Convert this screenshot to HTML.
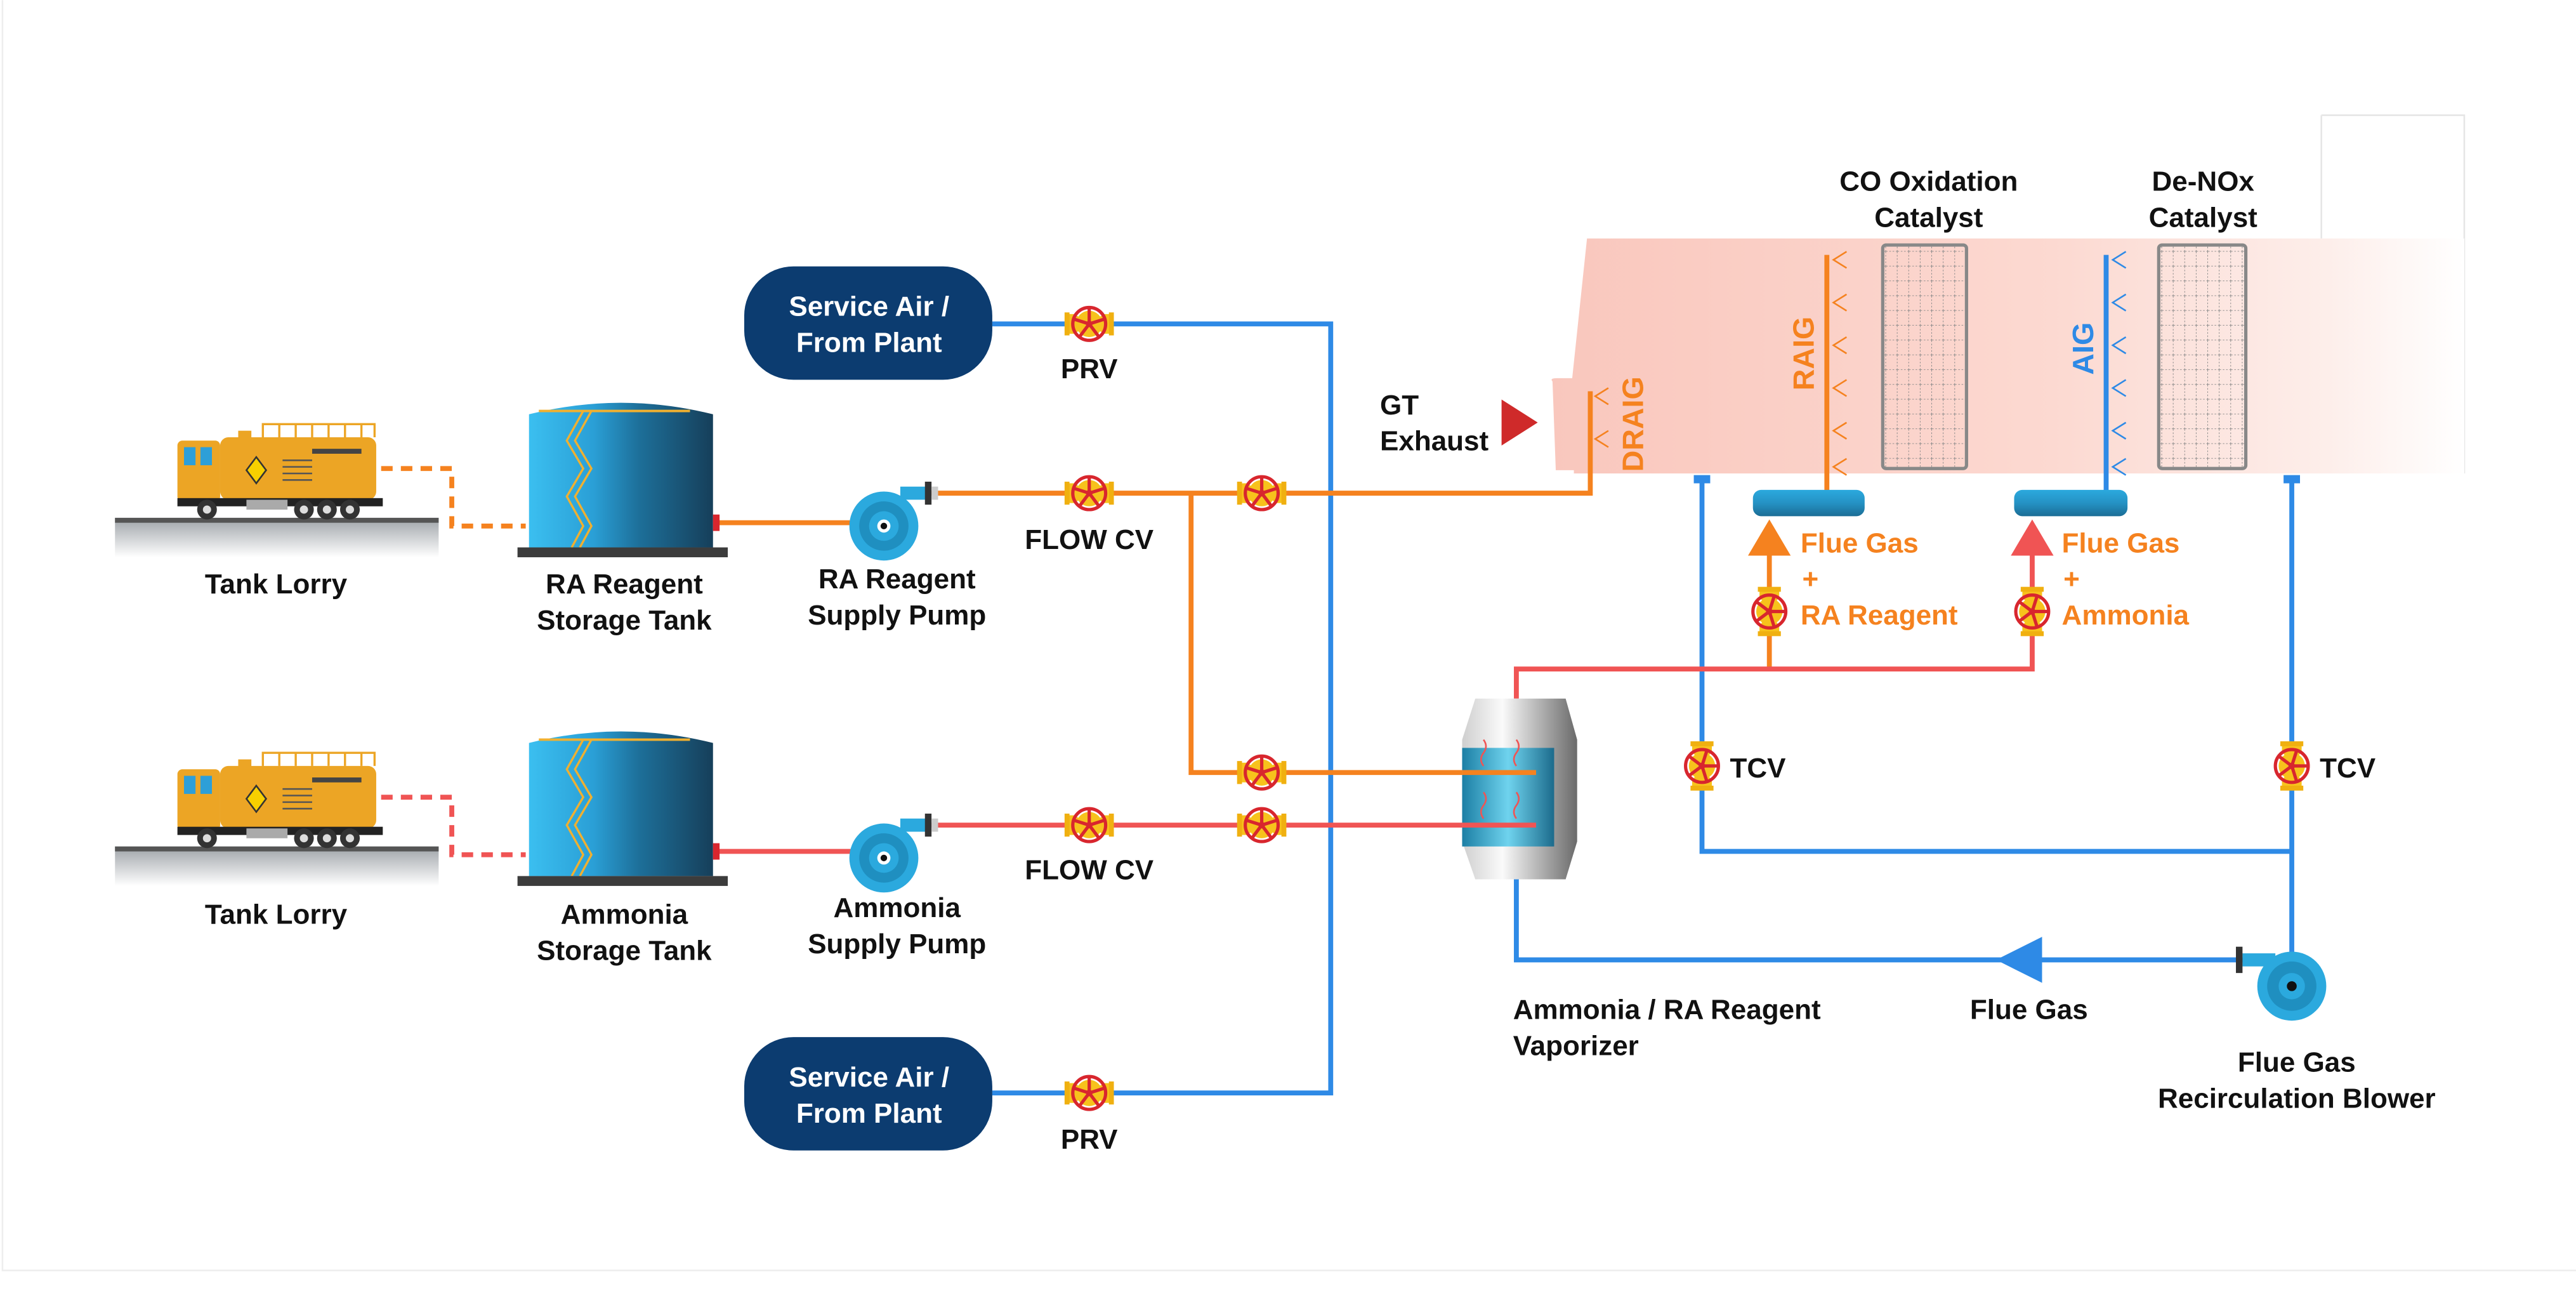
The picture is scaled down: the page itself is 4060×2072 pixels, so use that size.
<!DOCTYPE html>
<html><head><meta charset="utf-8"><style>
html,body{margin:0;padding:0;background:#fff}
svg{display:block}
text{font-family:"Liberation Sans",sans-serif;font-weight:bold;font-size:17px;fill:#111}
</style></head><body>
<svg width="4060" height="2072" viewBox="0 0 1568 800" xmlns="http://www.w3.org/2000/svg">
<defs>
<linearGradient id="duct" x1="0" x2="1" y1="0" y2="0">
<stop offset="0" stop-color="#f9c7bd"/><stop offset="0.55" stop-color="#fcd9d1"/><stop offset="0.85" stop-color="#fdeeea"/><stop offset="1" stop-color="#fff"/></linearGradient>
<linearGradient id="tank" x1="0" x2="1"><stop offset="0" stop-color="#3bbff0"/><stop offset="0.35" stop-color="#2a9fd6"/><stop offset="0.6" stop-color="#1d6f99"/><stop offset="1" stop-color="#163f5a"/></linearGradient>
<linearGradient id="ground" x1="0" x2="0" y1="0" y2="1"><stop offset="0" stop-color="#9ea3a8"/><stop offset="1" stop-color="#fff"/></linearGradient>
<linearGradient id="vap" x1="0" x2="1"><stop offset="0" stop-color="#cfcfcf"/><stop offset="0.35" stop-color="#fafafa"/><stop offset="1" stop-color="#6a6a6a"/></linearGradient>
<linearGradient id="vapin" x1="0" x2="1"><stop offset="0" stop-color="#1c7fa5"/><stop offset="0.5" stop-color="#6fd3ee"/><stop offset="1" stop-color="#1c6b8c"/></linearGradient>
<linearGradient id="hdr" x1="0" x2="0" y1="0" y2="1"><stop offset="0" stop-color="#2ba9de"/><stop offset="0.5" stop-color="#2592c4"/><stop offset="1" stop-color="#1b6d95"/></linearGradient>
<pattern id="grid" width="7" height="9" patternUnits="userSpaceOnUse"><path d="M7 0V9M0 9H7" stroke="#888" stroke-width="0.7" stroke-dasharray="1 1" fill="none"/></pattern>
<g id="valve">
<path d="M-14 -6 L-9 -6 L0 0 L9 -6 L14 -6 L14 6 L9 6 L0 0 L-9 6 L-14 6Z" fill="#f7c21c"/>
<rect x="-15" y="-7" width="3" height="14" fill="#f0b010"/><rect x="12" y="-7" width="3" height="14" fill="#f0b010"/>
<circle r="8" fill="#f7c21c"/>
<circle r="10" fill="none" stroke="#d8262e" stroke-width="2"/>
<path d="M0 0V-10M0 0L9.5 -3M0 0L6 8M0 0L-6 8M0 0L-9.5 -3" stroke="#d8262e" stroke-width="2"/>
<circle r="2" fill="#d8262e"/>
</g>
<g id="vvalve"><use href="#valve" transform="rotate(90)"/></g>
<g id="truck">
<rect x="0" y="315" width="197" height="24" fill="url(#ground)"/>
<rect x="0" y="315" width="197" height="3" fill="#555"/>
<rect x="38" y="268" width="26" height="37" rx="3" fill="#eca525"/>
<rect x="42" y="272" width="7" height="11" fill="#2d9fd8"/><rect x="52" y="272" width="7" height="11" fill="#2d9fd8"/>
<rect x="64" y="266" width="95" height="38" rx="5" fill="#eca525"/>
<rect x="75" y="262" width="8" height="6" fill="#eca525"/>
<path d="M90 266 v-8 h68 v8 M100 258 v8 M110 258 v8 M120 258 v8 M130 258 v8 M140 258 v8 M150 258 v8" stroke="#eca525" fill="none" stroke-width="1.3"/>
<rect x="120" y="273" width="30" height="3" fill="#444"/>
<path d="M102 280 h18 M102 284 h18 M102 288 h18 M102 292 h18" stroke="#555" stroke-width="1"/>
<path d="M86 278 l6 8 -6 8 -6 -8z" fill="#f7d000" stroke="#333"/>
<rect x="38" y="303" width="125" height="5" fill="#222"/>
<rect x="80" y="304" width="25" height="6" fill="#aaa"/>
<circle cx="56" cy="310" r="6" fill="#333"/><circle cx="56" cy="310" r="2.5" fill="#ddd"/>
<circle cx="115" cy="310" r="6" fill="#333"/><circle cx="115" cy="310" r="2.5" fill="#ddd"/>
<circle cx="129" cy="310" r="6" fill="#333"/><circle cx="129" cy="310" r="2.5" fill="#ddd"/>
<circle cx="143" cy="310" r="6" fill="#333"/><circle cx="143" cy="310" r="2.5" fill="#ddd"/>
</g>
<g id="tankg">
<path d="M322 252 Q378 238 434 252 V333 H322Z" fill="url(#tank)"/>
<path d="M328 250 H420" stroke="#f0b030" stroke-width="1.5"/>
<path d="M355 250 L345 268 L355 285 L345 302 L355 320 L348 333 M360 250 L350 268 L360 285 L350 302 L360 320 L353 333" stroke="#f0b030" stroke-width="1.3" fill="none"/>
<rect x="315" y="333" width="128" height="6" fill="#3c3c3c"/>
</g>
<g id="pump">
<path d="M10 -20 h18" stroke="#2ba9de" stroke-width="8"/>
<rect x="25" y="-27" width="4" height="14" fill="#333"/><rect x="29" y="-24" width="4" height="8" fill="#ccc"/>
<circle r="21" fill="#2ba9de"/><circle r="15" fill="#1f8fc0"/><circle r="9" fill="#2ba9de"/><circle r="4" fill="#fff"/><circle r="2" fill="#111"/>
</g>
</defs>
<rect width="1568" height="800" fill="#fff"/>
<path d="M1.5 0 V773 H1568" stroke="#eee" fill="none"/>

<path d="M1413 70 V145 M1413 70 H1500 V288" stroke="#e6e6e6" fill="none"/>
<path d="M945 232 Q943 230 948 230 H957 L966 145 H1500 V288 H958 V286 H947 Z" fill="url(#duct)"/>
<rect x="1146" y="149" width="51" height="136" fill="url(#grid)" stroke="#888" stroke-width="2" rx="2"/>
<rect x="1314" y="149" width="53" height="136" fill="url(#grid)" stroke="#888" stroke-width="2" rx="2"/>
<text x="1174" y="116" text-anchor="middle">CO Oxidation</text>
<text x="1174" y="138" text-anchor="middle">Catalyst</text>
<text x="1341" y="116" text-anchor="middle">De-NOx</text>
<text x="1341" y="138" text-anchor="middle">Catalyst</text>

<path d="M1112 155 V300" stroke="#f5821f" stroke-width="3"/>
<g stroke="#f5821f" stroke-width="1" fill="none">
<path d="M1124 153 l-8 5 8 5 M1124 179 l-8 5 8 5 M1124 205 l-8 5 8 5 M1124 231 l-8 5 8 5 M1124 257 l-8 5 8 5 M1124 279 l-8 5 8 5"/>
<path d="M979 236 l-8 5 8 5 M979 262 l-8 5 8 5"/></g>
<path d="M1282 155 V300" stroke="#2e8ae6" stroke-width="3"/>
<g stroke="#2e8ae6" stroke-width="1" fill="none"><path d="M1294 153 l-8 5 8 5 M1294 179 l-8 5 8 5 M1294 205 l-8 5 8 5 M1294 231 l-8 5 8 5 M1294 257 l-8 5 8 5 M1294 279 l-8 5 8 5"/></g>
<text transform="translate(1104 215) rotate(-90)" text-anchor="middle" style="fill:#f5821f;font-size:18px">RAIG</text>
<text transform="translate(1274 212) rotate(-90)" text-anchor="middle" style="fill:#2e8ae6;font-size:18px">AIG</text>
<text transform="translate(1000 258) rotate(-90)" text-anchor="middle" style="fill:#f5821f;font-size:18px">DRAIG</text>
<rect x="1067" y="298" width="68" height="16" rx="5" fill="url(#hdr)"/>
<rect x="1226" y="298" width="69" height="16" rx="5" fill="url(#hdr)"/>
<text x="840" y="252">GT</text><text x="840" y="274">Exhaust</text>
<path d="M914 243 L936 257 L914 271Z" fill="#cf2a2a"/>

<rect x="453" y="162" width="151" height="69" rx="30" fill="#0c3c70"/>
<text x="529" y="192" text-anchor="middle" style="fill:#fff">Service Air /</text>
<text x="529" y="214" text-anchor="middle" style="fill:#fff">From Plant</text>
<rect x="453" y="631" width="151" height="69" rx="30" fill="#0c3c70"/>
<text x="529" y="661" text-anchor="middle" style="fill:#fff">Service Air /</text>
<text x="529" y="683" text-anchor="middle" style="fill:#fff">From Plant</text>
<g stroke="#2e8ae6" stroke-width="3" fill="none">
<path d="M604 197 H810 V665 H604"/>
<path d="M1036 292 V518 H1395 M1395 292 V584 H923 V535"/>
</g>
<path d="M1215 584 L1243 570 V598Z" fill="#2e8ae6"/>
<rect x="1031" y="289" width="10" height="5" fill="#2e8ae6"/><rect x="1390" y="289" width="10" height="5" fill="#2e8ae6"/>
<use href="#valve" x="663" y="197"/><use href="#valve" x="663" y="665"/>
<text x="663" y="230" text-anchor="middle">PRV</text>
<text x="663" y="699" text-anchor="middle">PRV</text>

<g fill="none" stroke-width="3">
<path d="M437 318 H518 M565 300 H968 V238 M725 300 V470 H890" stroke="#f5821f"/>
<path d="M232 285 H275 V320 H320" stroke="#f5821f" stroke-dasharray="7 5"/>
<path d="M1077 407 V338" stroke="#f5821f"/>
<path d="M437 518 H518 M565 502 H890" stroke="#f05454"/>
<path d="M232 485 H275 V520 H320" stroke="#f05454" stroke-dasharray="7 5"/>
<path d="M923 425 V407 H1237 V338" stroke="#f05454"/>
</g>
<path d="M1064 338 L1077 316 L1090 338Z" fill="#f5821f"/>
<path d="M1224 338 L1237 316 L1250 338Z" fill="#f05454"/>
<use href="#valve" x="663" y="300"/><use href="#valve" x="768" y="300"/>
<use href="#valve" x="768" y="470"/><use href="#valve" x="663" y="502"/><use href="#valve" x="768" y="502"/>
<use href="#vvalve" x="1077" y="372"/><use href="#vvalve" x="1237" y="372"/>
<use href="#vvalve" x="1036" y="466"/><use href="#vvalve" x="1395" y="466"/>
<text x="663" y="334" text-anchor="middle">FLOW CV</text>
<text x="663" y="535" text-anchor="middle">FLOW CV</text>
<text x="1053" y="473">TCV</text><text x="1412" y="473">TCV</text>
<text x="1096" y="336" style="fill:#f5821f">Flue Gas</text><text x="1097" y="358" style="fill:#f5821f">+</text><text x="1096" y="380" style="fill:#f5821f">RA Reagent</text>
<text x="1255" y="336" style="fill:#f5821f">Flue Gas</text><text x="1256" y="358" style="fill:#f5821f">+</text><text x="1255" y="380" style="fill:#f5821f">Ammonia</text>

<path d="M898 425 H953 L960 450 V512 L953 535 H898 L890 512 V450Z" fill="url(#vap)"/>
<rect x="890" y="455" width="56" height="60" fill="url(#vapin)"/>
<path d="M890 470 H935" stroke-width="3" stroke="#f5821f"/>
<path d="M890 502 H935" stroke-width="3" stroke="#f05454"/>
<g stroke="#f05454" stroke-width="1" fill="none"><path d="M903 466 q-3 -4 0 -8 q3 -4 0 -8 M923 466 q-3 -4 0 -8 q3 -4 0 -8 M903 498 q-3 -4 0 -8 q3 -4 0 -8 M923 498 q-3 -4 0 -8 q3 -4 0 -8"/></g>
<text x="921" y="620">Ammonia / RA Reagent</text>
<text x="921" y="642">Vaporizer</text>
<text x="1235" y="620" text-anchor="middle">Flue Gas</text>

<g transform="translate(1395 600)"><path d="M-30 -16 h20" stroke="#2ba9de" stroke-width="8"/><rect x="-34" y="-24" width="4" height="16" fill="#333"/><circle r="21" fill="#2ba9de"/><circle r="15" fill="#1f8fc0"/><circle r="8" fill="#2ba9de"/><circle r="3" fill="#111"/></g>
<text x="1398" y="652" text-anchor="middle">Flue Gas</text>
<text x="1398" y="674" text-anchor="middle">Recirculation Blower</text>

<g transform="translate(70 0)"><use href="#truck"/></g>
<g transform="translate(70 200)"><use href="#truck"/></g>
<use href="#tankg"/><use href="#tankg" y="200"/>
<rect x="434" y="313" width="4" height="10" fill="#d8262e"/><rect x="434" y="513" width="4" height="10" fill="#d8262e"/>
<use href="#pump" x="538" y="320"/><use href="#pump" x="538" y="522"/>
<text x="168" y="361" text-anchor="middle">Tank Lorry</text>
<text x="168" y="562" text-anchor="middle">Tank Lorry</text>
<text x="380" y="361" text-anchor="middle">RA Reagent</text>
<text x="380" y="383" text-anchor="middle">Storage Tank</text>
<text x="380" y="562" text-anchor="middle">Ammonia</text>
<text x="380" y="584" text-anchor="middle">Storage Tank</text>
<text x="546" y="358" text-anchor="middle">RA Reagent</text>
<text x="546" y="380" text-anchor="middle">Supply Pump</text>
<text x="546" y="558" text-anchor="middle">Ammonia</text>
<text x="546" y="580" text-anchor="middle">Supply Pump</text>
</svg>
</body></html>
